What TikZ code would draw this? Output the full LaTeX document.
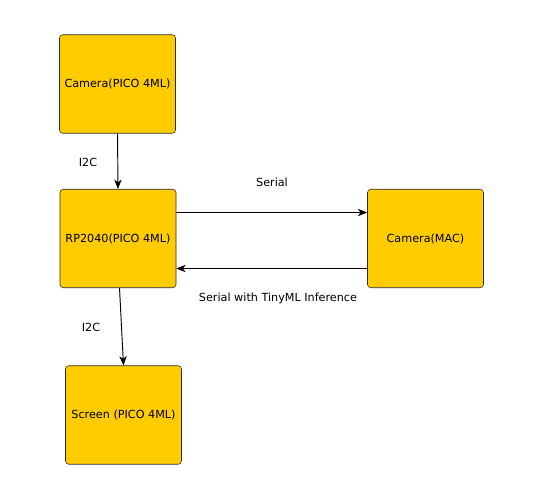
\documentclass[tikz,border=0pt]{standalone}
\usepackage{fontspec}
\setmainfont{DejaVu Sans}
\usetikzlibrary{calc, arrows.meta}

\definecolor{boxfill}{HTML}{FFCC00}
\definecolor{boxline}{HTML}{2B2B2B}

\begin{document}
\begin{tikzpicture}[x=0.75pt, y=-0.75pt,
		block/.style = {draw = boxline, fill = boxfill, rounded corners = 2.5pt, minimum width = 116*0.75pt, minimum height = 98.5*0.75pt, inner sep = 0pt, font = \fontsize{8.4}{10}\selectfont},
		link/.style = {-{Stealth[length = 7pt, width = 5.5pt, inset = 2pt]}, line width = 0.7pt},
		tag/.style = {font = \fontsize{8.4}{10}\selectfont}]
			\def\w{544};
			\def\h{495};

			\useasboundingbox (0,0) rectangle (\w,\h);

			\node [block] (camera pico) at (117.5,84) {Camera(PICO 4ML)};
			\node [block] (rp2040) at (118,238.5) {RP2040(PICO 4ML)};
			\node [block] (camera mac) at (425.5,238.5) {Camera(MAC)};
			\node [block] (screen) at (123.5,415) {Screen (PICO 4ML)};

			\begin{scope}
				\draw [link] (camera pico.south) -- (rp2040.north);
				\draw [link] ($ (rp2040.south) + (1.5,0) $) -- (screen.north);

				\draw [link] ($ (rp2040.east) + (0,-26) $) -- ($ (camera mac.west) + (0,-26) $);
				\draw [link] ($ (camera mac.west) + (0,30) $) -- ($ (rp2040.east) + (0,30) $);
			\end{scope}

			\begin{scope}
				\node [tag] (i2c top) at (88,162) {I2C};
				\node [tag] (i2c bottom) at (91,327) {I2C};
				\node [tag] (serial) at (272,182) {Serial};
				\node [tag] (serial back) at (278,298) {Serial with TinyML Inference};
			\end{scope}
		\end{tikzpicture}
\end{document}
